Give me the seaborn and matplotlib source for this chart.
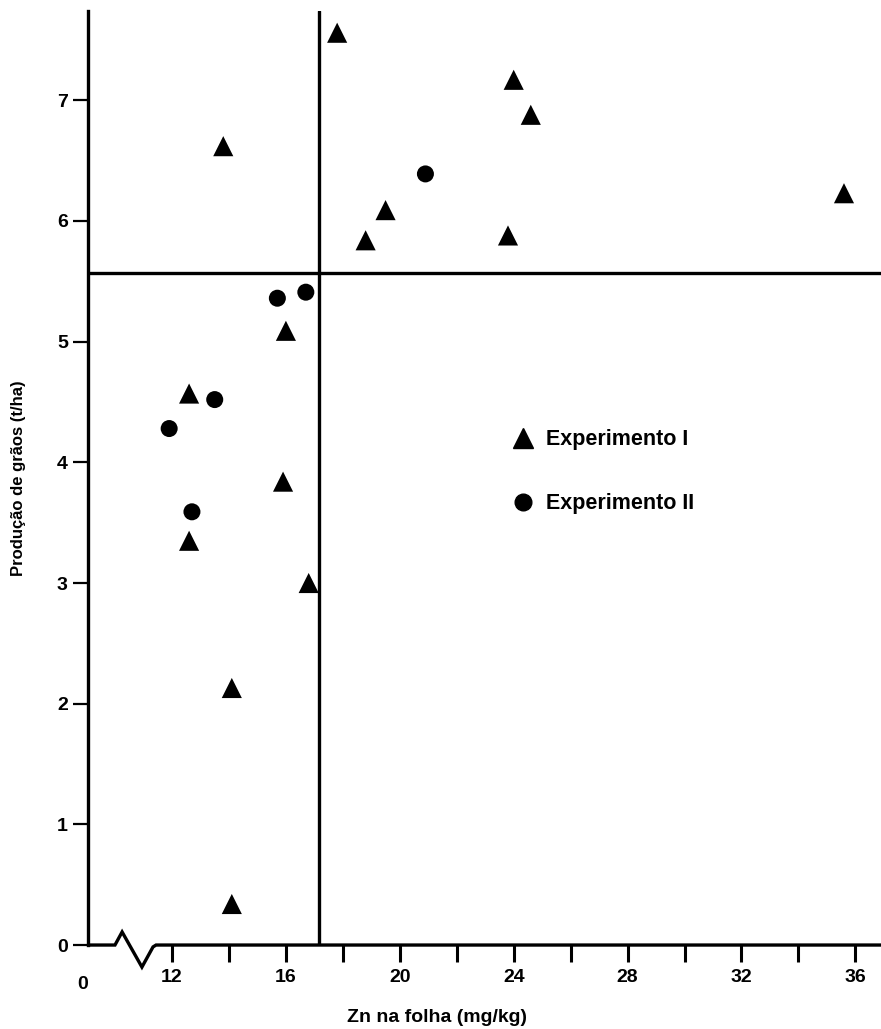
import matplotlib
matplotlib.use("Agg")
import matplotlib.pyplot as plt
from matplotlib.lines import Line2D
import pandas as pd
import seaborn as sns

# Data
exp1_zn = [17.8, 24.0, 24.6, 13.8, 19.5, 18.8, 23.8, 35.6, 16.0, 12.6, 15.9, 12.6, 16.8, 14.1, 14.1]
exp1_prod = [7.56, 7.17, 6.88, 6.62, 6.09, 5.84, 5.88, 6.23, 5.09, 4.57, 3.84, 3.35, 3.00, 2.13, 0.34]
exp2_zn = [15.7, 16.7, 13.5, 11.9, 12.7, 20.9]
exp2_prod = [5.36, 5.41, 4.52, 4.28, 3.59, 6.39]

x_crit = 17.16
y_crit = 5.57
x_ticks = [12, 14, 16, 18, 20, 22, 24, 26, 28, 30, 32, 34, 36]
y_ticks = [0, 1, 2, 3, 4, 5, 6, 7]
labels = ["Experimento I", "Experimento II"]

df1 = pd.DataFrame({"zn": exp1_zn, "prod": exp1_prod})
df2 = pd.DataFrame({"zn": exp2_zn, "prod": exp2_prod})

sns.set_style("white")
plt.rcParams["font.family"] = ["Liberation Sans", "DejaVu Sans"]
plt.rcParams["font.weight"] = "bold"
plt.rcParams["text.color"] = "black"
plt.rcParams["axes.labelcolor"] = "black"
plt.rcParams["xtick.color"] = "black"
plt.rcParams["ytick.color"] = "black"

fig = plt.figure(figsize=(8.81, 10.29), dpi=100)
ax = fig.add_axes([0.0999, 0.0816, 0.9001, 0.9077])

sns.scatterplot(data=df1, x="zn", y="prod", marker="^", s=210, color="black",
                edgecolor="none", ax=ax, legend=False, zorder=3)
sns.scatterplot(data=df2, x="zn", y="prod", marker="o", s=150, color="black",
                edgecolor="none", ax=ax, legend=False, zorder=3)

ax.axvline(x_crit, color="black", lw=2.4)
ax.axhline(y_crit, color="black", lw=2.4)

ax.set_xlim(9.05, 36.9)
ax.set_ylim(0, 7.74)

# spines: left kept, bottom drawn by hand with axis break
for s in ["top", "right", "bottom"]:
    ax.spines[s].set_visible(False)
ax.spines["left"].set_linewidth(2.4)
ax.spines["left"].set_color("black")
bx = [0, 0.034, 0.043, 0.068, 0.082, 0.0858, 1.0]
by = [0, 0, 0.014, -0.0236, -0.002, 0, 0]
ax.plot(bx, by, color="black", lw=2.4, transform=ax.transAxes, clip_on=False,
        solid_joinstyle="miter", zorder=4)

ax.set_xticks(x_ticks)
ax.set_xticklabels([str(t) if t % 4 == 0 else "" for t in x_ticks])
ax.set_yticks(y_ticks)
ax.tick_params(axis="x", direction="out", length=12, width=2.2,
               pad=5, labelsize=14, bottom=True)
ax.tick_params(axis="y", direction="out", length=10.5, width=1.6,
               pad=4, labelsize=14, left=True)
ax.text(9.05 - 0.2, -0.033, "0", transform=ax.get_xaxis_transform(),
        ha="center", va="top", fontsize=14, fontweight="bold")

ax.set_xlabel("Zn na folha (mg/kg)", fontsize=14, fontweight="bold")
ax.set_ylabel("Produção de grãos (t/ha)", fontsize=12, fontweight="bold")
ax.xaxis.set_label_coords(0.44, -0.068)
ax.yaxis.set_label_coords(-0.078, 0.5)

handles = [
    Line2D([], [], marker="^", color="black", ls="none", markersize=14),
    Line2D([], [], marker="o", color="black", ls="none", markersize=12),
]
ax.legend(handles, labels, frameon=False, loc="upper left",
          bbox_to_anchor=(0.51, 0.573), labelspacing=2.0,
          handletextpad=0.6, handlelength=1.0, prop={"weight": "bold", "size": 15.5})

ax.grid(False)
fig.savefig("out.png", dpi=100)
